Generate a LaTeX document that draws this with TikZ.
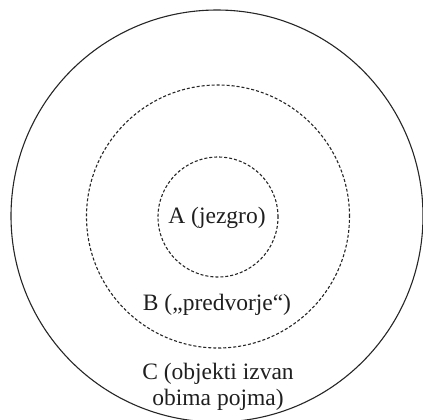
\documentclass[tikz,border=0pt]{standalone}
\usepackage{fontspec}
\setmainfont{Liberation Serif}
\begin{document}
\begin{tikzpicture}[x=1bp,y=-1bp,
  ring/.style={draw=black!85, line width=1.1bp},
  dring/.style={draw=black!85, line width=1.1bp, dash pattern=on 3bp off 2bp},
  lbl/.style={font=\fontsize{23.5bp}{26bp}\selectfont, text=black!88, inner sep=0pt, align=center}]
\useasboundingbox (0,0) rectangle (423,420);
\node[ring, circle, minimum size=412bp, inner sep=0pt] (outer) at (217,216) {};
\node[dring, circle, minimum size=263bp, inner sep=0pt] (mid) at (218,216.5) {};
\node[dring, circle, minimum size=120bp, inner sep=0pt] (inner) at (218,217) {};
\node[lbl, anchor=base] (a) at (217,223) {A (jezgro)};
\node[lbl, anchor=base] (b) at (217,310) {B („predvorje“)};
\node[lbl, anchor=base] (c) at (218,379) {C (objekti izvan};
\node[lbl, anchor=base] (c2) at (218,405) {obima pojma)};
\end{tikzpicture}
\end{document}
